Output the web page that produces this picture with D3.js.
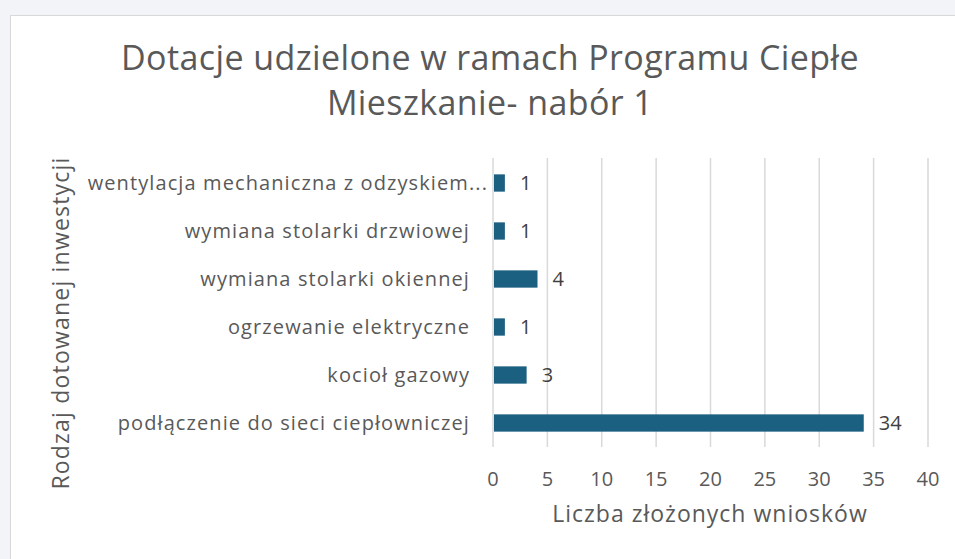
<!DOCTYPE html>
<html>
<head>
<meta charset="utf-8">
<script src="https://cdn.jsdelivr.net/npm/d3@7"></script>
<style>
  html, body { margin: 0; padding: 0; background: #f3f4f8; }
  svg { display: block; font-family: "Open Sans", "Noto Sans", sans-serif; }
</style>
</head>
<body>
<div class="chart"></div>
<script>
// data, top to bottom
const categories = [
    "wentylacja mechaniczna z odzyskiem...",
    "wymiana stolarki drzwiowej",
    "wymiana stolarki okiennej",
    "ogrzewanie elektryczne",
    "kocioł gazowy",
    "podłączenie do sieci ciepłowniczej"
];
const values = [1, 1, 4, 1, 3, 34];
const xTicks = [0, 5, 10, 15, 20, 25, 30, 35, 40];
const titleLines = ["Dotacje udzielone w ramach Programu Ciepłe", "Mieszkanie- nabór 1"];

const w = 955;
const h = 559;

const svg = d3.select('.chart').append('svg')
    .attr('width', w)
    .attr('height', h);

// chart area box (runs off the right and bottom edges)
svg.append('rect')
    .attr('x', 10.5)
    .attr('y', 15.5)
    .attr('width', w)
    .attr('height', h)
    .style('fill', '#fff')
    .style('stroke', '#d9d9d9');

const x = d3.scaleLinear()
    .domain([0, 40])
    .range([493, 928]);

const y = d3.scaleBand()
    .domain(categories)
    .range([159, 447])
    .paddingInner(0.64)
    .paddingOuter(0.32);

// title
svg.append('text')
    .attr('text-anchor', 'middle')
    .style('font-size', '34px')
    .style('letter-spacing', '0.4px')
    .style('fill', '#595959')
    .selectAll('tspan')
    .data(titleLines)
    .enter()
    .append('tspan')
    .attr('x', 490)
    .attr('y', (d, i) => 70 + i * 45)
    .text(d => d);

// vertical gridlines
svg.append('g')
    .selectAll('line')
    .data(xTicks)
    .enter()
    .append('line')
    .attr('x1', d => x(d))
    .attr('x2', d => x(d))
    .attr('y1', 158)
    .attr('y2', 447)
    .style('stroke', '#d9d9d9')
    .style('stroke-width', 1.5);

// x axis tick labels
svg.append('g')
    .selectAll('text')
    .data(xTicks)
    .enter()
    .append('text')
    .attr('x', d => x(d))
    .attr('y', 486)
    .attr('text-anchor', 'middle')
    .style('font-size', '20px')
    .style('fill', '#595959')
    .text(d => d);

// category labels (the truncated one sticks out a bit, as in the original)
svg.append('g')
    .selectAll('text')
    .data(categories)
    .enter()
    .append('text')
    .attr('x', (d, i) => i === 0 ? 488 : 470)
    .attr('y', d => y(d) + y.bandwidth() / 2)
    .attr('dy', '0.35em')
    .attr('text-anchor', 'end')
    .style('font-size', '20px')
    .style('letter-spacing', '1.1px')
    .style('fill', '#595959')
    .text(d => d);

// bars
svg.append('g')
    .selectAll('rect')
    .data(values)
    .enter()
    .append('rect')
    .attr('x', x(0) + 1)
    .attr('y', (d, i) => y(categories[i]))
    .attr('width', d => x(d) - x(0))
    .attr('height', y.bandwidth())
    .style('fill', '#1b5f81');

// data labels
svg.append('g')
    .selectAll('text')
    .data(values)
    .enter()
    .append('text')
    .attr('x', d => x(d) + 16)
    .attr('y', (d, i) => y(categories[i]) + y.bandwidth() / 2)
    .attr('dy', '0.35em')
    .style('font-size', '20px')
    .style('fill', '#404040')
    .text(d => d);

// axis titles
svg.append('text')
    .attr('x', 710)
    .attr('y', 522)
    .attr('text-anchor', 'middle')
    .style('font-size', '23px')
    .style('letter-spacing', '1px')
    .style('fill', '#595959')
    .text('Liczba złożonych wniosków');

svg.append('text')
    .attr('transform', 'translate(69,323) rotate(-90)')
    .attr('text-anchor', 'middle')
    .style('font-size', '23px')
    .style('letter-spacing', '1.2px')
    .style('fill', '#595959')
    .text('Rodzaj dotowanej inwestycji');
</script>
</body>
</html>
